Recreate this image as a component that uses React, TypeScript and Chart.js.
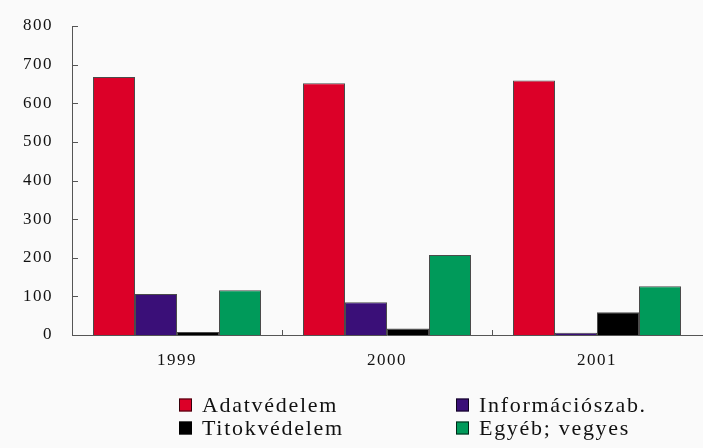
import React, { useEffect, useRef } from "react";
import { Chart, registerables } from "chart.js";

Chart.register(...registerables);

const categories = ["1999", "2000", "2001"];
const seriesLabels = ["Adatvédelem", "Információszab.", "Titokvédelem", "Egyéb; vegyes"];
const adatvedelem = [668, 652, 659];
const informacio = [106, 85, 6];
const titokvedelem = [8, 17, 59];
const egyeb = [116, 207, 126];
const seriesColors = ["#dc0028", "#3a0f78", "#000000", "#009a5a"];
const yMin = 0;
const yMax = 800;
const yStep = 100;

const FONT = "'Liberation Serif', 'Times New Roman', serif";

const decorPlugin = {
  id: "decor",
  beforeDraw(chart: any) {
    const ctx = chart.ctx;
    ctx.save();
    ctx.fillStyle = "#fafafa";
    ctx.fillRect(0, 0, chart.width, chart.height);
    ctx.restore();
    ctx.letterSpacing = "1.5px";
  },
  afterDraw(chart: any) {
    const ctx = chart.ctx;
    ctx.letterSpacing = "0px";
    const area = chart.chartArea;
    const xs = chart.scales.x;
    const ys = chart.scales.y;
    ctx.save();
    ctx.strokeStyle = "#555";
    ctx.lineWidth = 1;
    ys.ticks.forEach((t: any, i: number) => {
      const py = Math.round(ys.getPixelForTick(i)) + 0.5;
      ctx.beginPath();
      ctx.moveTo(area.left, py);
      ctx.lineTo(area.left + 6, py);
      ctx.stroke();
    });
    for (let i = 0; i < xs.ticks.length - 1; i++) {
      const px = Math.round((xs.getPixelForTick(i) + xs.getPixelForTick(i + 1)) / 2) + 0.5;
      ctx.beginPath();
      ctx.moveTo(px, area.bottom);
      ctx.lineTo(px, area.bottom - 5);
      ctx.stroke();
    }
    ctx.restore();

    ctx.save();
    ctx.font = `22px ${FONT}`;
    ctx.letterSpacing = "1.7px";
    ctx.textBaseline = "middle";
    ctx.textAlign = "left";
    const cols = [179, 456];
    const rows = [405, 428];
    chart.data.datasets.forEach((ds: any, i: number) => {
      const cx = cols[i % 2];
      const cy = rows[Math.floor(i / 2)];
      ctx.fillStyle = ds.backgroundColor;
      ctx.fillRect(cx, cy - 6.5, 13, 13);
      ctx.strokeStyle = "rgba(0,0,0,0.75)";
      ctx.lineWidth = 1;
      ctx.strokeRect(cx + 0.5, cy - 6, 12, 12);
      ctx.fillStyle = "#111";
      ctx.fillText(ds.label, cx + 23, cy + 1);
    });
    ctx.restore();
  },
};

export default function App() {
  const ref = useRef<HTMLCanvasElement | null>(null);
  useEffect(() => {
    if (!ref.current) return;
    const data = [adatvedelem, informacio, titokvedelem, egyeb];
    const chart = new Chart(ref.current, {
      type: "bar",
      data: {
        labels: categories,
        datasets: seriesLabels.map((label, i) => ({
          label,
          data: data[i],
          backgroundColor: seriesColors[i],
          borderColor: "rgba(0,0,0,0.7)",
          borderWidth: 1,
          categoryPercentage: 0.8,
          barPercentage: 1.0,
        })),
      },
      options: {
        responsive: false,
        animation: false,
        layout: { padding: { top: 26, bottom: 83, left: 0, right: 1 } },
        plugins: { legend: { display: false }, tooltip: { enabled: false } },
        scales: {
          x: {
            type: "category",
            offset: true,
            grid: { display: false },
            border: { display: true, color: "#555", width: 1 },
            ticks: { color: "#111", font: { family: FONT, size: 17 }, padding: 7 },
            afterFit: (s: any) => {
              s.height = 30;
            },
          },
          y: {
            min: yMin,
            max: yMax,
            grid: { display: false },
            border: { display: true, color: "#555", width: 1 },
            ticks: {
              stepSize: yStep,
              color: "#111",
              font: { family: FONT, size: 17 },
              padding: 11,
            },
            afterFit: (s: any) => {
              s.width = 72;
            },
          },
        },
      },
      plugins: [decorPlugin],
    });
    return () => chart.destroy();
  }, []);
  return (
    <div style={{ position: "fixed", left: 0, top: 0, width: 703, height: 448, background: "#fafafa" }}>
      <canvas ref={ref} width={703} height={448} style={{ display: "block" }} />
    </div>
  );
}
